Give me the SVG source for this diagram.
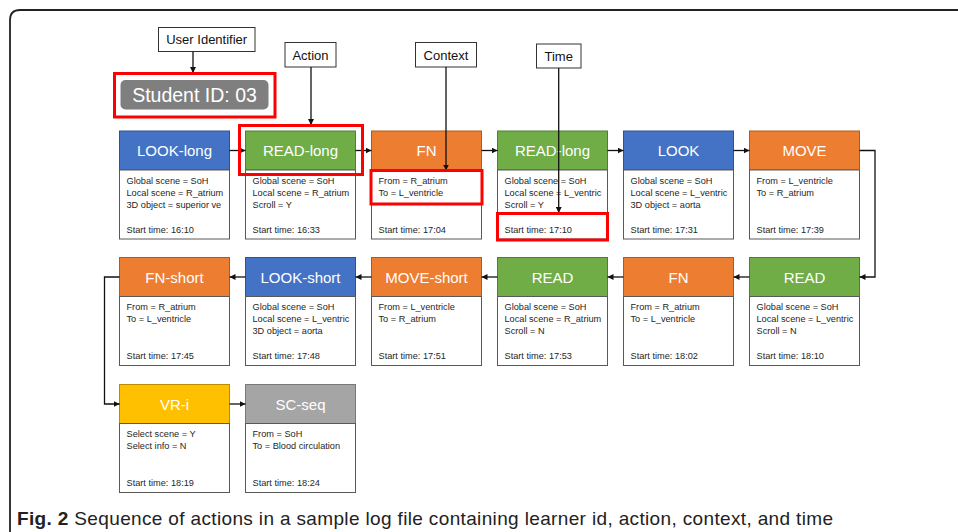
<svg xmlns="http://www.w3.org/2000/svg" width="958" height="532" viewBox="0 0 958 532">
<defs>
<marker id="ah" markerWidth="6" markerHeight="6" refX="6" refY="3" orient="auto" markerUnits="userSpaceOnUse"><path d="M0,0 L6,3 L0,6 z" fill="#111"/></marker>
<style>
text{font-family:"Liberation Sans",Arial,sans-serif}
.blue{fill:#4472C4;stroke:#2F528F}
.green{fill:#70AD47;stroke:#507E32}
.orange{fill:#ED7D31;stroke:#AE5A21}
.yellow{fill:#FFC000;stroke:#BC8C00}
.grey{fill:#A5A5A5;stroke:#787878}
.body{fill:#fff;stroke:#595959;stroke-width:1}
.ttl{fill:#fff;font-size:15px;text-anchor:middle}
.bt{fill:#262626;font-size:9.2px}
.lbl rect{fill:#fff;stroke:#333;stroke-width:1}
.lbl text{fill:#111;font-size:13px;text-anchor:middle}
.red{fill:none;stroke:#FF0000;stroke-width:3}
.conn path{fill:none;stroke:#111;stroke-width:1.3;marker-end:url(#ah)}
</style>
</defs>
<rect width="958" height="532" fill="#fff"/>
<path d="M10,540 V20 Q10,10 20,10 H970" fill="none" stroke="#222" stroke-width="1.8"/>

<g id="label-user" class="lbl"><rect x="158.5" y="27.5" width="96.5" height="24"/><text x="206.7" y="44">User Identifier</text></g>
<g id="label-action" class="lbl"><rect x="285" y="42.5" width="51" height="24.5"/><text x="310.5" y="59.5">Action</text></g>
<g id="label-context" class="lbl"><rect x="415.5" y="42.5" width="61" height="24.5"/><text x="446" y="59.5">Context</text></g>
<g id="label-time" class="lbl"><rect x="536.5" y="44" width="44.5" height="24"/><text x="558.7" y="60.5">Time</text></g>

<g id="student-id"><rect x="120.5" y="80" width="148" height="29.5" rx="5" fill="#7F7F7F"/><text x="194.5" y="102" fill="#fff" font-size="19.5" text-anchor="middle">Student ID: 03</text></g>

<g id="n1" transform="translate(119.5,131)"><rect class="blue" width="110" height="39"/><rect class="body" y="39" width="110" height="69"/><text class="ttl" x="55" y="25">LOOK-long</text><text class="bt" x="7" y="52.5">Global scene = SoH</text><text class="bt" x="7" y="64.5">Local scene = R_atrium</text><text class="bt" x="7" y="76.5">3D object = superior ve</text><text class="bt" x="7" y="101.5">Start time: 16:10</text></g>
<g id="n2" transform="translate(245.5,131)"><rect class="green" width="110" height="39"/><rect class="body" y="39" width="110" height="69"/><text class="ttl" x="55" y="25">READ-long</text><text class="bt" x="7" y="52.5">Global scene = SoH</text><text class="bt" x="7" y="64.5">Local scene = R_atrium</text><text class="bt" x="7" y="76.5">Scroll = Y</text><text class="bt" x="7" y="101.5">Start time: 16:33</text></g>
<g id="n3" transform="translate(371.5,131)"><rect class="orange" width="110" height="39"/><rect class="body" y="39" width="110" height="69"/><text class="ttl" x="55" y="25">FN</text><text class="bt" x="7" y="52.5">From = R_atrium</text><text class="bt" x="7" y="64.5">To = L_ventricle</text><text class="bt" x="7" y="101.5">Start time: 17:04</text></g>
<g id="n4" transform="translate(497.5,131)"><rect class="green" width="110" height="39"/><rect class="body" y="39" width="110" height="69"/><text class="ttl" x="55" y="25">READ-long</text><text class="bt" x="7" y="52.5">Global scene = SoH</text><text class="bt" x="7" y="64.5">Local scene = L_ventric</text><text class="bt" x="7" y="76.5">Scroll = Y</text><text class="bt" x="7" y="101.5">Start time: 17:10</text></g>
<g id="n5" transform="translate(623.5,131)"><rect class="blue" width="110" height="39"/><rect class="body" y="39" width="110" height="69"/><text class="ttl" x="55" y="25">LOOK</text><text class="bt" x="7" y="52.5">Global scene = SoH</text><text class="bt" x="7" y="64.5">Local scene = L_ventric</text><text class="bt" x="7" y="76.5">3D object = aorta</text><text class="bt" x="7" y="101.5">Start time: 17:31</text></g>
<g id="n6" transform="translate(749.5,131)"><rect class="orange" width="110" height="39"/><rect class="body" y="39" width="110" height="69"/><text class="ttl" x="55" y="25">MOVE</text><text class="bt" x="7" y="52.5">From = L_ventricle</text><text class="bt" x="7" y="64.5">To = R_atrium</text><text class="bt" x="7" y="101.5">Start time: 17:39</text></g>

<g id="n7" transform="translate(749.5,257.5)"><rect class="green" width="110" height="39"/><rect class="body" y="39" width="110" height="69"/><text class="ttl" x="55" y="25">READ</text><text class="bt" x="7" y="52.5">Global scene = SoH</text><text class="bt" x="7" y="64.5">Local scene = L_ventric</text><text class="bt" x="7" y="76.5">Scroll = N</text><text class="bt" x="7" y="101.5">Start time: 18:10</text></g>
<g id="n8" transform="translate(623.5,257.5)"><rect class="orange" width="110" height="39"/><rect class="body" y="39" width="110" height="69"/><text class="ttl" x="55" y="25">FN</text><text class="bt" x="7" y="52.5">From = R_atrium</text><text class="bt" x="7" y="64.5">To = L_ventricle</text><text class="bt" x="7" y="101.5">Start time: 18:02</text></g>
<g id="n9" transform="translate(497.5,257.5)"><rect class="green" width="110" height="39"/><rect class="body" y="39" width="110" height="69"/><text class="ttl" x="55" y="25">READ</text><text class="bt" x="7" y="52.5">Global scene = SoH</text><text class="bt" x="7" y="64.5">Local scene = R_atrium</text><text class="bt" x="7" y="76.5">Scroll = N</text><text class="bt" x="7" y="101.5">Start time: 17:53</text></g>
<g id="n10" transform="translate(371.5,257.5)"><rect class="orange" width="110" height="39"/><rect class="body" y="39" width="110" height="69"/><text class="ttl" x="55" y="25">MOVE-short</text><text class="bt" x="7" y="52.5">From = L_ventricle</text><text class="bt" x="7" y="64.5">To = R_atrium</text><text class="bt" x="7" y="101.5">Start time: 17:51</text></g>
<g id="n11" transform="translate(245.5,257.5)"><rect class="blue" width="110" height="39"/><rect class="body" y="39" width="110" height="69"/><text class="ttl" x="55" y="25">LOOK-short</text><text class="bt" x="7" y="52.5">Global scene = SoH</text><text class="bt" x="7" y="64.5">Local scene = L_ventric</text><text class="bt" x="7" y="76.5">3D object = aorta</text><text class="bt" x="7" y="101.5">Start time: 17:48</text></g>
<g id="n12" transform="translate(119.5,257.5)"><rect class="orange" width="110" height="39"/><rect class="body" y="39" width="110" height="69"/><text class="ttl" x="55" y="25">FN-short</text><text class="bt" x="7" y="52.5">From = R_atrium</text><text class="bt" x="7" y="64.5">To = L_ventricle</text><text class="bt" x="7" y="101.5">Start time: 17:45</text></g>

<g id="n13" transform="translate(119.5,384.5)"><rect class="yellow" width="110" height="39"/><rect class="body" y="39" width="110" height="69"/><text class="ttl" x="55" y="25">VR-i</text><text class="bt" x="7" y="52.5">Select scene = Y</text><text class="bt" x="7" y="64.5">Select info = N</text><text class="bt" x="7" y="101.5">Start time: 18:19</text></g>
<g id="n14" transform="translate(245.5,384.5)"><rect class="grey" width="110" height="39"/><rect class="body" y="39" width="110" height="69"/><text class="ttl" x="55" y="25">SC-seq</text><text class="bt" x="7" y="52.5">From = SoH</text><text class="bt" x="7" y="64.5">To = Blood circulation</text><text class="bt" x="7" y="101.5">Start time: 18:24</text></g>

<g id="connectors" class="conn">
<path d="M193,51.5 V73"/>
<path d="M311,67 V125"/>
<path d="M446,67 V170.5"/>
<path d="M558.7,68 V213"/>
<path d="M229.5,150.5 H245.5"/>
<path d="M355.5,150.5 H371.5"/>
<path d="M481.5,150.5 H497.5"/>
<path d="M607.5,150.5 H623.5"/>
<path d="M733.5,150.5 H749.5"/>
<path d="M859.5,150.5 H875 V277 H859.5"/>
<path d="M749.5,277 H733.5"/>
<path d="M623.5,277 H607.5"/>
<path d="M497.5,277 H481.5"/>
<path d="M371.5,277 H355.5"/>
<path d="M245.5,277 H229.5"/>
<path d="M119.5,277 H104.5 V404 H119.5"/>
<path d="M229.5,404 H245.5"/>
</g>

<g id="highlights">
<rect class="red" x="114.5" y="73.5" width="160.5" height="43.5"/>
<rect class="red" x="239.5" y="125.5" width="123" height="49"/>
<rect class="red" x="371" y="170.5" width="111" height="33.5"/>
<rect class="red" x="497.5" y="213.5" width="110" height="26.5"/>
</g>

<text x="17" y="525" font-size="19" fill="#222" textLength="816" lengthAdjust="spacing"><tspan font-weight="bold">Fig. 2</tspan> Sequence of actions in a sample log file containing learner id, action, context, and time</text>
</svg>
